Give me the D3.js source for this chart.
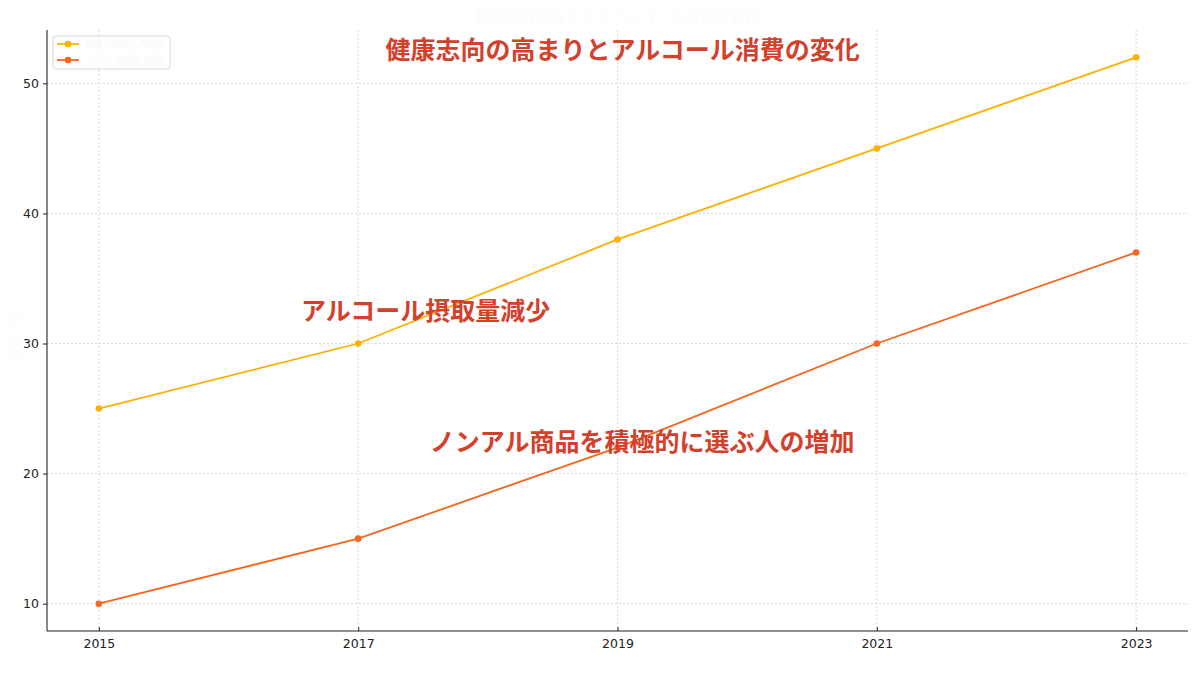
<!DOCTYPE html>
<html><head><meta charset="utf-8">
<script src="https://cdn.jsdelivr.net/npm/d3@7"></script>
<style>body{margin:0;background:#fff}</style>
</head><body>
<svg id="c" width="1200" height="675"></svg>
<script>
const years = [2015, 2017, 2019, 2021, 2023];
const seriesNames = ["健康志向の人の割合", "ノンアルコール商品購入者の割合"];
const seriesA = [25, 30, 38, 45, 52];
const seriesB = [10, 15, 22, 30, 37];
const yTicks = [10, 20, 30, 40, 50];
const colors = ["#FFB000", "#F5661E"];
const title = "健康志向の高まりとアルコール消費の変化";
const annotations = [
  {text: "健康志向の高まりとアルコール消費の変化", x: 2019.04, y: 52.4},
  {text: "アルコール摂取量減少", x: 2017.52, y: 32.34},
  {text: "ノンアル商品を積極的に選ぶ人の増加", x: 2019.19, y: 22.27}
];

const svg = d3.select("#c");
const L = 47, R = 1188, T = 30, B = 631;
const x = d3.scaleLinear().domain([2014.6, 2023.4]).range([L, R]);
const y = d3.scaleLinear().domain([7.9, 54.1]).range([B, T]);

// grid
const g = svg.append("g");
g.selectAll(".gx").data(years).join("line")
  .attr("x1", d => x(d)).attr("x2", d => x(d)).attr("y1", T).attr("y2", B)
  .attr("stroke", "#cfcfcf").attr("stroke-width", 0.8).attr("stroke-dasharray", "2,2");
g.selectAll(".gy").data(yTicks).join("line")
  .attr("y1", d => y(d)).attr("y2", d => y(d)).attr("x1", L).attr("x2", R)
  .attr("stroke", "#cfcfcf").attr("stroke-width", 0.8).attr("stroke-dasharray", "2,2");

// axes
const xAxis = d3.axisBottom(x).tickValues(years).tickFormat(d3.format("d")).tickSize(-4).tickPadding(8);
const yAxis = d3.axisLeft(y).tickValues(yTicks).tickSize(4).tickPadding(4);
const gx = svg.append("g").attr("transform", `translate(0,${B})`).call(xAxis);
const gy = svg.append("g").attr("transform", `translate(${L},0)`).call(yAxis);
[gx, gy].forEach(a => {
  a.select(".domain").attr("stroke", "#222").attr("stroke-width", 1.1);
  a.selectAll(".tick line").attr("stroke", "#222");
  a.selectAll("text").attr("fill", "#222").style("font-family", "DejaVu Sans").style("font-size", "12.5px");
});
gx.select(".domain").attr("d", `M${L},0H${R}`);
gy.select(".domain").attr("d", `M0,${T}V${B}`);

// lines
const line = d3.line().x((d, i) => x(years[i])).y(d => y(d));
[seriesA, seriesB].forEach((s, k) => {
  svg.append("path").datum(s).attr("d", line).attr("fill", "none")
    .attr("stroke", colors[k]).attr("stroke-width", 1.8);
  svg.selectAll(".p" + k).data(s).join("circle")
    .attr("cx", (d, i) => x(years[i])).attr("cy", d => y(d)).attr("r", 3.3).attr("fill", colors[k]);
});

// faint (white) title, y label
svg.append("text").attr("x", (L + R) / 2).attr("y", 22).attr("text-anchor", "middle")
  .attr("fill", "#fcfcfc").style("font-family", "Noto Sans CJK JP").style("font-size", "15px").text(title);
svg.append("text").attr("transform", `translate(20,${(T + B) / 2}) rotate(-90)`).attr("text-anchor", "middle")
  .attr("fill", "#fcfcfc").style("font-family", "Noto Sans CJK JP").style("font-size", "12px").text("割合（%）");

// legend
const lg = svg.append("g").attr("transform", "translate(53,36)");
lg.append("rect").attr("width", 117).attr("height", 33).attr("rx", 3)
  .attr("fill", "#fff").attr("fill-opacity", 0.85).attr("stroke", "#d8d8d8");
seriesNames.forEach((n, k) => {
  const yy = 8 + k * 16;
  lg.append("line").attr("x1", 4).attr("x2", 26).attr("y1", yy).attr("y2", yy).attr("stroke", colors[k]).attr("stroke-width", 1.8);
  lg.append("circle").attr("cx", 15).attr("cy", yy).attr("r", 3.3).attr("fill", colors[k]);
  lg.append("text").attr("x", 32).attr("y", yy + 4).attr("fill", "#f8f8f8")
    .attr("textLength", 80).attr("lengthAdjust", "spacingAndGlyphs")
    .style("font-family", "Noto Sans CJK JP").style("font-size", "10px").text(n);
});

// annotations
svg.selectAll(".ann").data(annotations).join("text")
  .attr("x", d => x(d.x)).attr("y", d => y(d.y)).attr("text-anchor", "middle")
  .attr("dominant-baseline", "middle")
  .attr("fill", "#D3402B").style("font-family", "Noto Sans CJK JP").style("font-weight", "bold")
  .style("font-size", "25px").text(d => d.text);
</script>
</body></html>
